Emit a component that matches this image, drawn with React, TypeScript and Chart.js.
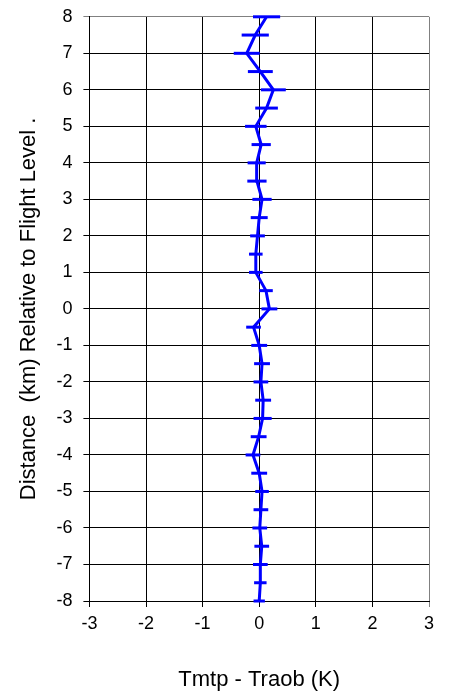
import React, { useEffect, useRef } from "react";
import { Chart, registerables } from "chart.js";

Chart.register(...registerables);

const levels = [-8, -7.5, -7, -6.5, -6, -5.5, -5, -4.5, -4, -3.5, -3, -2.5, -2, -1.5, -1, -0.5, 0, 0.5, 1, 1.5, 2, 2.5, 3, 3.5, 4, 4.5, 5, 5.5, 6, 6.5, 7, 7.5, 8];
const meanDiff = [0.0, 0.02, 0.02, 0.045, 0.01, 0.03, 0.05, 0.0, -0.11, -0.01, 0.06, 0.07, 0.03, 0.05, 0.0, -0.1, 0.18, 0.12, -0.06, -0.06, -0.03, 0.0, 0.05, -0.04, -0.045, 0.035, -0.06, 0.13, 0.25, 0.02, -0.22, -0.07, 0.13];
const errHalf = [0.1, 0.11, 0.13, 0.13, 0.13, 0.13, 0.12, 0.14, 0.13, 0.14, 0.16, 0.14, 0.13, 0.14, 0.14, 0.13, 0.14, 0.12, 0.12, 0.12, 0.13, 0.15, 0.17, 0.17, 0.16, 0.17, 0.19, 0.2, 0.22, 0.22, 0.23, 0.24, 0.24];

const xTitle = "Tmtp - Traob (K)";
const yTitle = "Distance  (km) Relative to Flight Level .";
const FONT = "'Liberation Sans', Arial, sans-serif";

const errorBarPlugin = {
  id: "errorBars",
  afterDatasetsDraw(chart: any) {
    const ctx = chart.ctx;
    const xs = chart.scales.x;
    const ys = chart.scales.y;
    ctx.save();
    ctx.strokeStyle = "#0000FF";
    ctx.lineWidth = 3;
    ctx.lineCap = "butt";
    levels.forEach((lv, i) => {
      const py = ys.getPixelForValue(lv);
      const x1 = xs.getPixelForValue(meanDiff[i] - errHalf[i]);
      const x2 = xs.getPixelForValue(meanDiff[i] + errHalf[i]);
      ctx.beginPath();
      ctx.moveTo(x1, py);
      ctx.lineTo(x2, py);
      ctx.stroke();
    });
    ctx.restore();
  },
};

export default function App() {
  const ref = useRef<HTMLCanvasElement>(null);
  useEffect(() => {
    if (!ref.current) return;
    const gridColor = (max: number) => (c: any) =>
      c.tick && c.tick.value === max ? "#808080" : "#000000";
    const chart = new Chart(ref.current, {
      type: "scatter",
      data: {
        datasets: [
          {
            data: levels.map((lv, i) => ({ x: meanDiff[i], y: lv })),
            showLine: true,
            borderColor: "#0000FF",
            borderWidth: 3,
            pointRadius: 0,
            clip: false as any,
          },
        ],
      },
      options: {
        responsive: false,
        animation: false,
        layout: { padding: { left: 16, right: 22, top: 0, bottom: 4 } },
        plugins: { legend: { display: false }, tooltip: { enabled: false } },
        scales: {
          x: {
            type: "linear",
            min: -3,
            max: 3,
            ticks: { stepSize: 1, color: "#000", font: { family: FONT, size: 18 }, padding: 6 },
            grid: { color: gridColor(3), tickLength: 6, lineWidth: 1 },
            border: { color: "#000", width: 1 },
            title: {
              display: true,
              text: xTitle,
              color: "#000",
              font: { family: FONT, size: 22 },
              padding: { top: 26, bottom: 0 },
            },
          },
          y: {
            type: "linear",
            min: -8,
            max: 8,
            ticks: {
              stepSize: 1,
              color: "#000",
              font: { family: FONT, size: 18 },
              padding: 6,
              callback: (v: any) => String(v) + " ",
            },
            grid: { color: gridColor(8), tickLength: 6, lineWidth: 1 },
            border: { color: "#000", width: 1 },
            title: {
              display: true,
              text: yTitle,
              color: "#000",
              font: { family: FONT, size: 22 },
              padding: { top: 0, bottom: 8 },
            },
          },
        },
      },
      plugins: [errorBarPlugin],
    });
    return () => chart.destroy();
  }, []);
  return (
    <div style={{ position: "absolute", left: 0, top: 0, width: 451, height: 697, background: "#fff" }}>
      <canvas ref={ref} width={451} height={697} style={{ display: "block" }} />
    </div>
  );
}
